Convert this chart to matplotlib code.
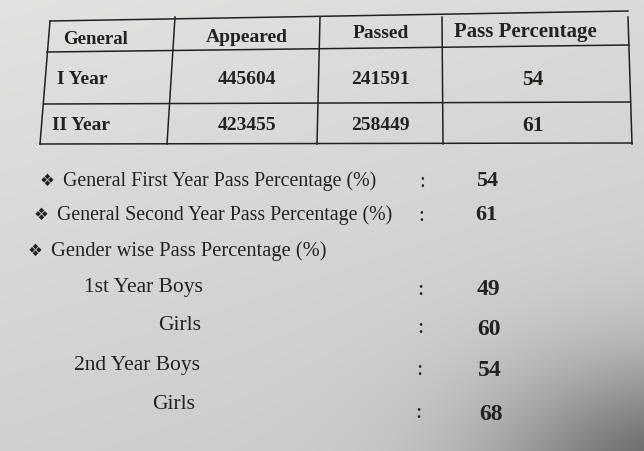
import numpy as np
import matplotlib
matplotlib.use('Agg')
import matplotlib.pyplot as plt

plt.rcParams['font.family'] = ['Liberation Serif', 'DejaVu Sans']

# table data
header = ["General", "Appeared", "Passed", "Pass Percentage"]
row_names = ["I Year", "II Year"]
appeared = [445604, 423455]
passed = [241591, 258449]
pass_pct = [54, 61]

# bullet list data
general_labels = ["General First Year Pass Percentage (%)",
                  "General Second Year Pass Percentage (%)"]
general_values = [54, 61]
gender_title = "Gender wise Pass Percentage (%)"
gender_labels = ["1st Year Boys", "Girls", "2nd Year Boys", "Girls"]
gender_values = [49, 60, 54, 68]

W, H = 644, 452
fig = plt.figure(figsize=(W / 100, H / 100), dpi=100)
ax = fig.add_axes([0, 0, 1, 1])
ax.set_xlim(0, W)
ax.set_ylim(H, 0)
ax.axis('off')

# paper background with shading toward bottom right
yy, xx = np.mgrid[0:H, 0:W]
bg = 0.89 - 0.07 * (yy / H) - 0.03 * (xx / W)
shadow = np.exp(-(((xx - 680) / 190.0) ** 2 + ((yy - 480) / 120.0) ** 2))
bg = bg - 0.38 * shadow
ax.imshow(np.dstack([bg, bg * 0.995, bg * 0.985]), extent=[0, W, H, 0],
          zorder=0, aspect='auto')

ink = '#222222'

# table grid (slightly skewed like the photo)
def hline(y_left, y_right, x_left, x_right):
    ax.plot([x_left, x_right], [y_left, y_right], color=ink, lw=1.1, zorder=2)

hline(22, 12, 50, 628)
hline(53, 46, 47, 629)
hline(105, 103, 44, 630)
hline(145, 144, 40, 632)
for xt, xb in [(50, 40), (175, 167), (320, 317), (442, 443), (628, 632)]:
    ax.plot([xt, xb], [22 if xt == 50 else 18, 145], color=ink, lw=1.1, zorder=2)

col_x = [63, 247, 381, 525]
head_y = [40, 37, 34, 32]
head_fs = [13.5, 14, 14, 15]
for i, h in enumerate(header):
    ax.text(col_x[i], head_y[i], h, fontsize=head_fs[i], fontweight='bold',
            color=ink, ha='left' if i == 0 else 'center', va='center')

row_y = [80, 126]
name_x = [57, 52]
num_x = [247, 380, 533]
num_fs = [14, 14, 15.5]
for r in range(2):
    ax.text(name_x[r], row_y[r], row_names[r], fontsize=14, fontweight='bold',
            color=ink, ha='left', va='center')
    vals = [appeared[r], passed[r], pass_pct[r]]
    for c in range(3):
        ax.text(num_x[c], row_y[r], str(vals[c]), fontsize=num_fs[c],
                fontweight='bold', color=ink, ha='center', va='center')

# bullet list
bul_x = [47, 41]
txt_x = [63, 57]
bul_y = [181, 215]
colon_x = [422, 421]
val_x = [487, 486]
for i in range(2):
    ax.text(bul_x[i], bul_y[i], "\u2756", fontsize=12, color=ink, ha='center',
            va='center', family='DejaVu Sans')
    ax.text(txt_x[i], bul_y[i], general_labels[i], fontsize=14.3, color=ink,
            ha='left', va='center')
    ax.text(colon_x[i], bul_y[i] + 2, ":", fontsize=15, color=ink,
            ha='center', va='center')
    ax.text(val_x[i], bul_y[i], str(general_values[i]), fontsize=16,
            fontweight='bold', color=ink, ha='center', va='center')

ax.text(35, 251, "\u2756", fontsize=12, color=ink, ha='center', va='center',
        family='DejaVu Sans')
ax.text(51, 251, gender_title, fontsize=14.8, color=ink, ha='left', va='center')

lab_right = [203, 201, 200, 195]
lab_y = [288, 326, 366, 405]
g_colon_x = [420, 420, 419, 418]
g_colon_y = [291, 329, 371, 414]
g_val_x = [488, 489, 490, 491]
g_val_y = [290, 330, 371, 415]
for i in range(4):
    ax.text(lab_right[i], lab_y[i], gender_labels[i], fontsize=15.5, color=ink,
            ha='right', va='center')
    ax.text(g_colon_x[i], g_colon_y[i], ":", fontsize=16, color=ink,
            ha='center', va='center')
    ax.text(g_val_x[i], g_val_y[i], str(gender_values[i]), fontsize=17,
            fontweight='bold', color=ink, ha='center', va='center')

fig.savefig('out.png', dpi=100)
